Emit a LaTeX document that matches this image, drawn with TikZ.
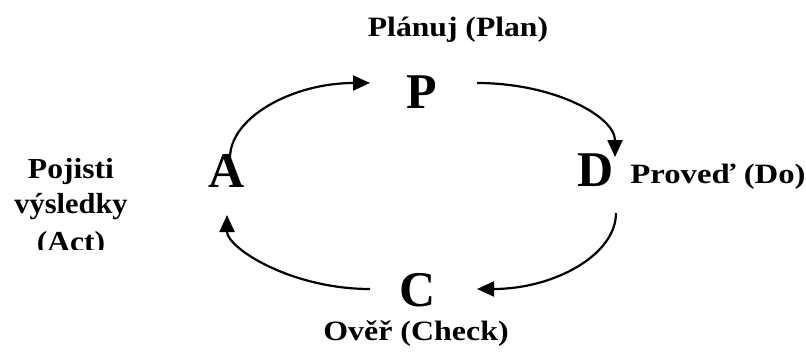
\documentclass[tikz,border=0pt]{standalone}
\usepackage{fontspec}
\setmainfont{Liberation Serif}
\usetikzlibrary{arrows.meta}
\tikzset{
  big/.style={anchor=base, inner sep=0pt, font=\bfseries\fontsize{50}{54}\selectfont},
  lab/.style={anchor=base, inner sep=0pt, font=\bfseries\fontsize{28}{32}\selectfont},
  sidelab/.style={anchor=base, inner sep=0pt, font=\bfseries\fontsize{29}{32}\selectfont},
  cyc/.style={line width=2.2pt, -{Triangle[length=17pt,width=15pt]}},
}
\begin{document}
\begin{tikzpicture}[x=1pt,y=-1pt]
\useasboundingbox (0,0) rectangle (806,351);
% big letters
\node[big] (P) at (422,108) {P};
\node[big] (A) at (227,187) {A};
\node[big] (D) at (596,186) {D};
\node[big] (C) at (418,306) {C};
% labels
\node[lab] (tP) at (458,36) {\scalebox{1.13}[1]{Plánuj (Plan)}};
\node[lab] (tD) at (718,183) {\scalebox{1.17}[1]{Proveď (Do)}};
\node[lab] (tC) at (416,340) {\scalebox{1.14}[1]{Ověř (Check)}};
\begin{scope}
\clip (0,0) rectangle (200,249);
\node[sidelab] (tA1) at (71,178) {\scalebox{1.09}[1]{Pojisti}};
\node[sidelab] (tA2) at (71,213) {\scalebox{1.05}[1]{výsledky}};
\node[sidelab] (tA3) at (71,251) {\scalebox{1.09}[1]{(Act)}};
\end{scope}
% arrow end points
\coordinate (a1) at (230,158);
\coordinate (p1) at (370,83);
\coordinate (p2) at (477,83);
\coordinate (d1) at (615,157);
\coordinate (d2) at (616,213);
\coordinate (c1) at (477,289);
\coordinate (c2) at (370,289);
\coordinate (a2) at (227,215);
\draw[cyc] (a1) .. controls (230,117) and (293,83) .. (p1);
\draw[cyc] (p2) .. controls (553,83) and (615,116) .. (d1);
\draw[cyc] (d2) .. controls (616,255) and (554,289) .. (c1);
\draw[cyc] (c2) .. controls (291,289) and (227,248) .. (a2);
\end{tikzpicture}
\end{document}
